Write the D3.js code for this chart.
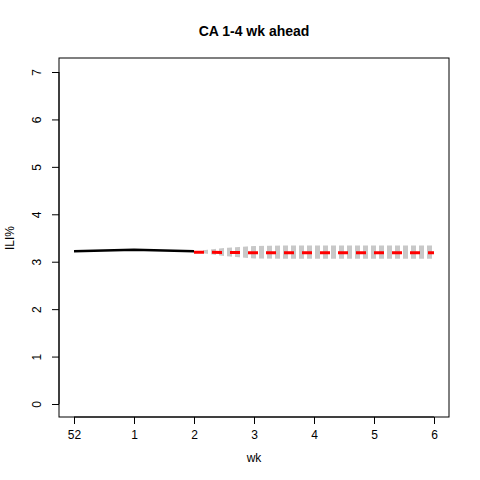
<!DOCTYPE html>
<html><head><meta charset="utf-8">
<script src="https://cdn.jsdelivr.net/npm/d3@7"></script>
<style>body{margin:0;background:#fff}text{font-family:"Liberation Sans",Arial,sans-serif}</style>
</head><body><svg id="c" width="480" height="480"></svg>
<script>
var weekLabels = ["52","1","2","3","4","5","6"];
var observed = [3.22, 3.25, 3.22];
var forecastX = [2, 3, 4, 5, 6];
var forecastMean = [3.2, 3.19, 3.19, 3.19, 3.19];
var bandX = [2.15, 2.5, 3, 3.5, 4, 5, 6];
var bandLo = [3.18, 3.12, 3.07, 3.06, 3.06, 3.06, 3.06];
var bandHi = [3.24, 3.29, 3.33, 3.34, 3.34, 3.34, 3.34];
var yTicks = [0,1,2,3,4,5,6,7];

var svg = d3.select("#c");
var x = d3.scaleLinear().domain([0,6]).range([74,434]);
var y = d3.scaleLinear().domain([0,7]).range([404,72]);

var defs = svg.append("defs");
defs.append("pattern").attr("id","stripes").attr("patternUnits","userSpaceOnUse")
  .attr("width",8).attr("height",10).attr("x",x(2.15))
  .append("rect").attr("width",5).attr("height",10).attr("fill","#c8c8c8");

svg.append("path").datum(bandX.map(function(d,i){return [d,bandLo[i],bandHi[i]];}))
  .attr("fill","url(#stripes)")
  .attr("d", d3.area().x(function(d){return x(d[0]);}).y0(function(d){return y(d[1]);}).y1(function(d){return y(d[2]);}));

svg.append("path").datum(observed).attr("fill","none").attr("stroke","#000").attr("stroke-width",2.5)
  .attr("d", d3.line().x(function(d,i){return x(i);}).y(function(d){return y(d);}));

svg.append("path").datum(forecastMean).attr("fill","none").attr("stroke","#f00").attr("stroke-width",3)
  .attr("stroke-dasharray","10,8")
  .attr("d", d3.line().x(function(d,i){return x(forecastX[i]);}).y(function(d){return y(d);}));

svg.append("rect").attr("x",59).attr("y",58).attr("width",390).attr("height",359)
  .attr("fill","none").attr("stroke","#000");

var xa = svg.append("g").attr("transform","translate(0,417)")
  .call(d3.axisBottom(x).tickValues(d3.range(7)).tickFormat(function(d){return weekLabels[d];}).tickSizeOuter(0).tickSize(7).tickPadding(6));
xa.select(".domain").attr("d","M"+x(0)+",0H"+x(6));
var ya = svg.append("g").attr("transform","translate(59,0)")
  .call(d3.axisLeft(y).tickValues(yTicks).tickFormat(d3.format("d")).tickSizeOuter(0).tickSize(7));
ya.select(".domain").attr("d","M0,"+y(0)+"V"+y(7));
ya.selectAll(".tick text").attr("transform","rotate(-90)").attr("text-anchor","middle")
  .attr("x",0).attr("y",-18).attr("dy","0");
svg.selectAll(".tick text").attr("font-size",12).attr("font-family","Liberation Sans, Arial, sans-serif");

svg.append("text").attr("x",254).attr("y",36).attr("text-anchor","middle").attr("font-weight","bold").attr("font-size",14).text("CA 1-4 wk ahead");
svg.append("text").attr("x",254).attr("y",462).attr("text-anchor","middle").attr("font-size",12).text("wk");
svg.append("text").attr("transform","translate(14,238) rotate(-90)").attr("text-anchor","middle").attr("font-size",12).text("ILI%");
</script></body></html>
